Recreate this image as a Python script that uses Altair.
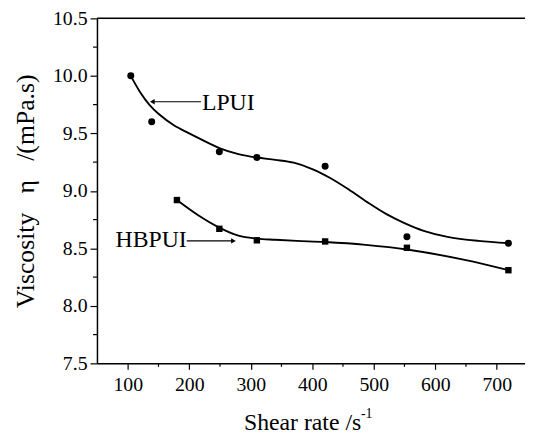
import altair as alt
import pandas as pd

# ---- data ----
LPUI_X = [105, 139, 249, 310, 421, 554, 719]
LPUI_Y = [10.0, 9.60, 9.34, 9.29, 9.215, 8.60, 8.545]
HBPUI_X = [180, 249, 310, 421, 554, 719]
HBPUI_Y = [8.92, 8.67, 8.57, 8.56, 8.505, 8.31]

# smooth fitted curves
LPUI_FIT_X = [105, 120, 135, 150, 175, 200, 250, 280, 310, 340, 370, 400, 430, 460, 490, 520, 550, 580, 620, 670, 719]
LPUI_FIT_Y = [10.0, 9.86, 9.75, 9.67, 9.57, 9.50, 9.37, 9.32, 9.29, 9.27, 9.245, 9.19, 9.11, 9.01, 8.90, 8.80, 8.72, 8.655, 8.60, 8.565, 8.545]
HBPUI_FIT_X = [180, 214, 249, 280, 310, 340, 375, 421, 487, 554, 648, 719]
HBPUI_FIT_Y = [8.92, 8.79, 8.68, 8.61, 8.585, 8.575, 8.565, 8.555, 8.53, 8.49, 8.40, 8.31]

X_TICKS = [100, 200, 300, 400, 500, 600, 700]
X_MINOR = [150, 250, 350, 450, 550, 650]
Y_TICKS = [7.5, 8.0, 8.5, 9.0, 9.5, 10.0, 10.5]
Y_MINOR = [7.75, 8.25, 8.75, 9.25, 9.75, 10.25]

FONT = "Liberation Serif"
W, H = 433, 349

xscale = alt.Scale(domain=[50, 746], nice=False, zero=False)
yscale = alt.Scale(domain=[7.5, 10.5], nice=False, zero=False)

xaxis = alt.Axis(values=X_TICKS, title=None, grid=False, tickSize=6, tickWidth=1.2,
                 tickColor="black", domainColor="black", domainWidth=1.5,
                 labelFont=FONT, labelFontSize=20, labelColor="black", labelPadding=5,
                 labelFlush=False)
yaxis = alt.Axis(values=Y_TICKS, format=".1f", grid=False, tickSize=7, tickWidth=1.2,
                 tickColor="black", domainColor="black", domainWidth=1.5,
                 labelFont=FONT, labelFontSize=20, labelColor="black", labelPadding=3,
                 labelFlush=False,
                 title="Viscosity\u2002\u2005η\u2002\u2005/(mPa.s)", titleFont=FONT, titleFontSize=26,
                 titleFontWeight="normal", titleColor="black", titlePadding=14)

lp = pd.DataFrame({"x": LPUI_X, "y": LPUI_Y})
hb = pd.DataFrame({"x": HBPUI_X, "y": HBPUI_Y})
lpf = pd.DataFrame({"x": LPUI_FIT_X, "y": LPUI_FIT_Y})
hbf = pd.DataFrame({"x": HBPUI_FIT_X, "y": HBPUI_FIT_Y})

def X(field="x:Q"):
    return alt.X(field, scale=xscale, axis=xaxis)

def Y():
    return alt.Y("y:Q", scale=yscale, axis=yaxis)

lp_line = alt.Chart(lpf).mark_line(color="black", strokeWidth=1.9, interpolate="catmull-rom").encode(
    x=X(), y=Y())
hb_line = alt.Chart(hbf).mark_line(color="black", strokeWidth=1.9, interpolate="catmull-rom").encode(
    x=X(), y=Y())
lp_pts = alt.Chart(lp).mark_point(shape="circle", filled=True, color="black", size=50, opacity=1).encode(
    x=X(), y=Y())
hb_pts = alt.Chart(hb).mark_point(shape="square", filled=True, color="black", size=42, opacity=1).encode(
    x=X(), y=Y())

# minor ticks
xminor = alt.Chart(pd.DataFrame({"x": X_MINOR})).mark_rule(color="black", strokeWidth=1.2).encode(
    x=X(), y=alt.value(H), y2=alt.value(H + 3.5))
yminor = alt.Chart(pd.DataFrame({"y": Y_MINOR})).mark_rule(color="black", strokeWidth=1.2).encode(
    y=Y(), x=alt.value(-4), x2=alt.value(0))
topline = alt.Chart(pd.DataFrame({"a": [0]})).mark_rule(color="black", strokeWidth=1.5).encode(
    x=alt.value(0), x2=alt.value(W), y=alt.value(0))

# annotations
ann = pd.DataFrame({"x": [219.0, 196.0], "y": [9.775, 8.565], "t": ["LPUI", "HBPUI"]})
lp_text = alt.Chart(ann.iloc[[0]]).mark_text(font=FONT, fontSize=24, align="left", baseline="middle",
                                            color="black", dx=1, dy=1).encode(x=X(), y=Y(), text="t:N")
hb_text = alt.Chart(ann.iloc[[1]]).mark_text(font=FONT, fontSize=24, align="right", baseline="middle",
                                            color="black", dy=-1).encode(x=X(), y=Y(), text="t:N")

arrows = pd.DataFrame({"x": [219.0, 196.0], "x2": [140.0, 272.0], "y": [9.775, 8.565]})
arrow_lines = alt.Chart(arrows).mark_rule(color="black", strokeWidth=1.2).encode(
    x=X(), x2="x2:Q", y=Y())
lp_head = alt.Chart(arrows.iloc[[0]]).mark_point(shape="triangle-left", filled=True, color="black",
                                                 size=30, opacity=1).encode(
    x=X("x2:Q"), y=Y())
hb_head = alt.Chart(arrows.iloc[[1]]).mark_point(shape="triangle-right", filled=True, color="black",
                                                 size=30, opacity=1).encode(
    x=X("x2:Q"), y=Y())

# x title with superscript
xtitle = alt.Chart(pd.DataFrame({"t": ["Shear rate /s"]})).mark_text(
    font=FONT, fontSize=24, align="center", baseline="alphabetic", color="black").encode(
    text="t:N", x=alt.value(208), y=alt.value(H + 67))
xsup = alt.Chart(pd.DataFrame({"t": ["-1"]})).mark_text(
    font=FONT, fontSize=14, align="left", baseline="alphabetic", color="black").encode(
    text="t:N", x=alt.value(267), y=alt.value(H + 55))

chart = alt.layer(
    lp_line, hb_line, lp_pts, hb_pts, xminor, yminor, topline,
    arrow_lines, lp_head, hb_head, lp_text, hb_text, xtitle, xsup
).properties(
    width=W, height=H,
    autosize=alt.AutoSizeParams(type="none"),
    padding={"left": 90, "top": 8, "right": 0, "bottom": 71},
).configure_view(stroke=None).configure(background="white")

chart.save("out.html", embed_options={"renderer": "svg", "actions": False})
